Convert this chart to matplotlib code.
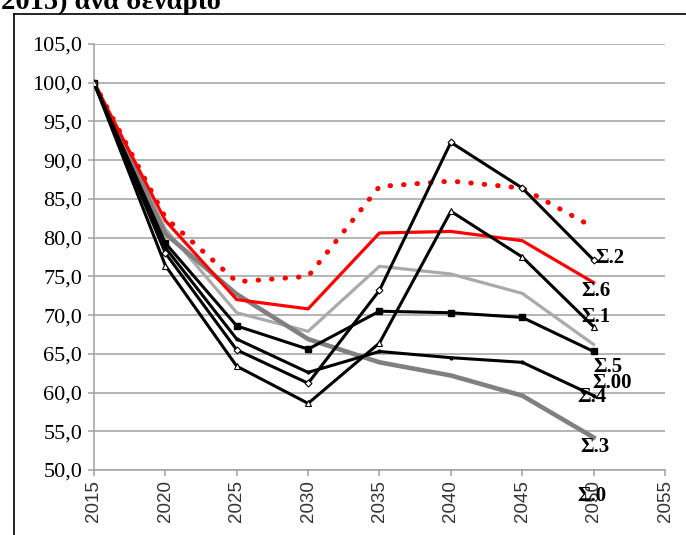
import matplotlib
matplotlib.use('Agg')
import matplotlib.pyplot as plt
from matplotlib.lines import Line2D
from matplotlib.ticker import FuncFormatter

# έτη και δείκτης ανά σενάριο (2015 = 100)
years = [2015, 2020, 2025, 2030, 2035, 2040, 2045, 2050]
s0 = [100, 82.6, 74.3, 75.0, 86.6, 87.3, 86.4, 81.3]
s6 = [100, 82.2, 72.0, 70.8, 80.6, 80.8, 79.6, 74.2]
s00 = [100, 81.1, 70.3, 67.9, 76.3, 75.3, 72.8, 66.2]
s3 = [100, 80.5, 72.7, 66.9, 63.9, 62.2, 59.6, 54.2]
s5 = [100, 79.3, 68.6, 65.6, 70.5, 70.3, 69.7, 65.3]
s4 = [100, 78.7, 66.9, 62.6, 65.3, 64.5, 63.9, 59.6]
s2 = [100, 78.0, 65.5, 61.2, 73.2, 92.3, 86.4, 77.1]
s1 = [100, 76.4, 63.4, 58.6, 66.4, 83.4, 77.5, 68.5]

serif = ['Liberation Serif', 'DejaVu Serif']
sans = ['Liberation Sans', 'DejaVu Sans']

fig = plt.figure(figsize=(6.86, 5.35), dpi=100)
ax = fig.add_axes([0.137, 0.1215, 0.8324, 0.7963])

grid_c = '#A0A0A0'
ax.set_xlim(2015, 2055)
ax.set_ylim(50, 105)
ax.set_xticks(range(2015, 2056, 5))
ax.set_yticks([50 + 5 * i for i in range(12)])
ax.yaxis.set_major_formatter(FuncFormatter(lambda v, p: f'{v:.1f}'.replace('.', ',')))
ax.grid(axis='y', color=grid_c, linewidth=1.1)
ax.set_axisbelow(True)
for s in ['top', 'right']:
    ax.spines[s].set_visible(False)
for s in ['left', 'bottom']:
    ax.spines[s].set_color(grid_c)
    ax.spines[s].set_linewidth(1.1)
ax.tick_params(axis='both', color=grid_c, length=4.5, width=1.1)
ax.tick_params(axis='y', pad=4)
ax.tick_params(axis='x', pad=3)
for t in ax.get_yticklabels():
    t.set_family(serif)
    t.set_fontsize(16)
for t in ax.get_xticklabels():
    t.set_family(sans)
    t.set_fontsize(13.5)
    t.set_rotation(90)
    t.set_color('#333333')

# γκρι γραμμές
ax.plot(years, s00, color='#AAAAAA', linewidth=2.3, zorder=3)
ax.plot(years, s3, color='#808080', linewidth=3.3, zorder=3)
# κόκκινες γραμμές
ax.plot(years, s0, color='red', linewidth=3.6, linestyle=(0, (0.1, 2.6)),
        dash_capstyle='round', zorder=4)
ax.plot(years, s6, color='red', linewidth=2.3, zorder=4)
# μαύρες γραμμές
ax.plot(years, s5, color='black', linewidth=2.2, marker='s', markersize=4,
        markerfacecolor='black', zorder=5)
ax.plot(years, s4, color='black', linewidth=2.2, marker='o', markersize=2,
        zorder=5)
ax.plot(years, s2, color='black', linewidth=2.2, marker='D', markersize=3.5,
        markerfacecolor='white', markeredgewidth=0.8, zorder=5)
ax.plot(years, s1, color='black', linewidth=2.2, marker='^', markersize=4,
        markerfacecolor='white', markeredgewidth=0.8, zorder=5)

# ετικέτες σεναρίων στο τελευταίο σημείο
labels = [
    ('Σ.2', s2, (16, 2)),
    ('Σ.6', s6, (2, -8)),
    ('Σ.1', s1, (2, 10)),
    ('Σ.5', s5, (14, -16)),
    ('Σ.00', s00, (18, -38)),
    ('Σ.4', s4, (-2, -1)),
    ('Σ.3', s3, (1, -10)),
    ('Σ.0', s0, (-2, -268)),
]
for name, ser, off in labels:
    ax.annotate(name, xy=(years[-1], ser[-1]), xytext=off,
                textcoords='offset pixels', ha='center', va='center',
                fontsize=15, fontweight='bold', family=serif, zorder=6)

# πλαίσιο σελίδας και τίτλος
fig.add_artist(Line2D([14 / 686, 1], [1 - 14 / 535, 1 - 14 / 535],
                      color='black', linewidth=1.2))
fig.add_artist(Line2D([14 / 686, 14 / 686], [0, 1 - 14 / 535],
                      color='black', linewidth=1.2))
fig.text(0.002, 1 - 9 / 535, '2015) ανά σενάριο', fontsize=20.5,
         fontweight='bold', family=serif, va='baseline', ha='left')

fig.savefig('out.png', dpi=100)
